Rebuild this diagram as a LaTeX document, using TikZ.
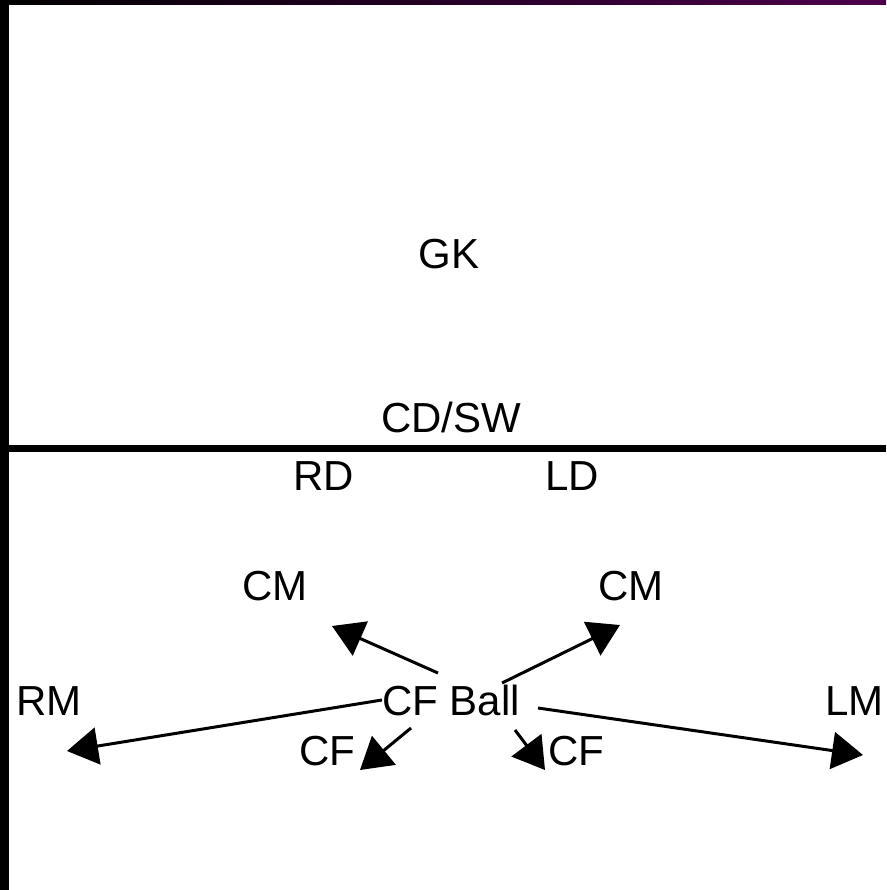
\documentclass[tikz,border=0pt]{standalone}
\usepackage{fontspec}
\setmainfont{Liberation Sans}
\usetikzlibrary{arrows.meta}
\definecolor{navy}{rgb}{0.0, 0.0, 0.3}
\definecolor{plum}{rgb}{0.3, 0.0, 0.3}
\tikzset{
  player/.style={inner sep=0pt, anchor=base, font=\fontsize{42}{50}\selectfont},
  run/.style={line width=3pt, -{Triangle[length=31pt,width=37pt]}}
}

\begin{document}
\begin{tikzpicture}[x=1pt,y=-1pt]
\useasboundingbox (0,0) rectangle (886,890);
%\draw [very thin, gray] (0,0) grid[step=50] (886,890);
\fill (0,0) rectangle (9,890);
\shade [left color=black, middle color=navy, right color=plum] (0,0) rectangle (886,5);
\draw [line width=6.5pt] (0,448.5) -- (886,448.5);

\node [player] (gk) at (449,269) {GK};
\node [player] (sw) at (451,432) {CD/SW};
\node [player] (rd) at (324,490) {RD};
\node [player] (ld) at (572,490) {LD};
\node [player] (cm1) at (275,600) {CM};
\node [player] (cm2) at (631,600) {CM};
\node [player] (rm) at (49,715) {RM};
\node [player] (ball) at (451,715) {CF Ball};
\node [player, anchor=base east] (lm) at (884,715) {LM};
\node [player] (cf1) at (327,765) {CF};
\node [player] (cf2) at (576,765) {CF};

\coordinate (pass1) at (438,673);
\coordinate (pass2) at (502,683);
\coordinate (pass4) at (538,708);
\coordinate (pass5) at (411,728);
\coordinate (pass6) at (515,730);
\coordinate (run1) at (332,626);
\coordinate (run2) at (620,625);
\coordinate (run3) at (67,751);
\coordinate (run4) at (863,755);
\coordinate (run5) at (360,770);
\coordinate (run6) at (545,770);

\draw [run] (pass1) -- (run1);
\draw [run] (pass2) -- (run2);
\draw [run] (ball.west) -- (run3);
\draw [run] (pass4) -- (run4);
\draw [run] (pass5) -- (run5);
\draw [run] (pass6) -- (run6);
\end{tikzpicture}
\end{document}
